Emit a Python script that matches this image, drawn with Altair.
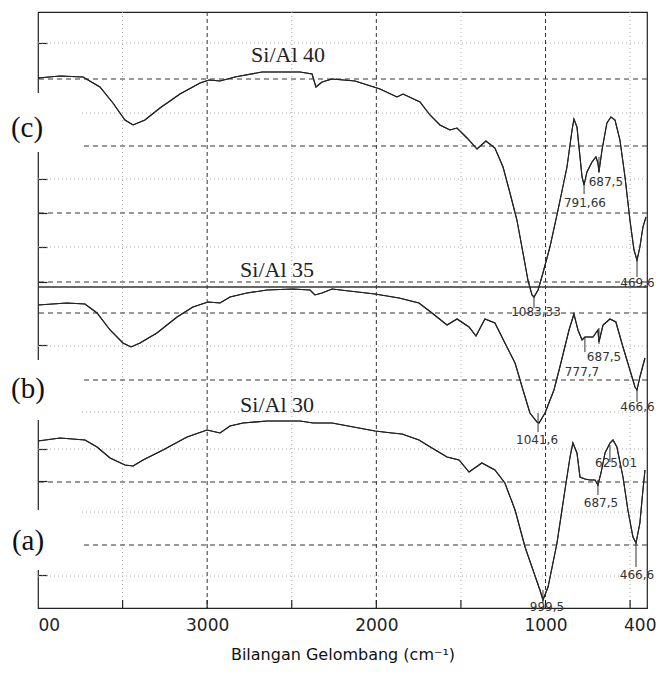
import altair as alt
import pandas as pd

# ---- Spectrum (c) Si/Al 40 : wavenumber (cm-1) and offset transmittance ----
wn_c = [4000, 3870, 3734, 3634, 3557, 3486, 3438, 3368, 3279, 3161, 3042, 2989, 2924, 2836, 2676,
        2451, 2380, 2357, 2321, 2262, 2126, 1978, 1878, 1842, 1742, 1683, 1624, 1565, 1523, 1464,
        1405, 1352, 1299, 1251, 1210, 1169, 1133, 1104, 1080, 1068, 1044, 1015, 974, 926, 873,
        843, 832, 814, 796, 784, 772, 755, 725, 702, 690, 684, 666, 637, 613, 589, 560, 530, 501,
        477, 459, 442, 424, 406]
t_c = [530, 532, 531, 521, 505, 488, 483, 488, 500, 514, 525, 528, 527, 531, 536,
       536, 534, 521, 526, 529, 527, 519, 511, 514, 506, 493, 483, 478, 480, 470,
       459, 467, 460, 441, 415, 388, 355, 328, 313, 311, 318, 335, 361, 398, 441,
       478, 489, 481, 451, 431, 423, 436, 446, 451, 445, 436, 458, 485, 491, 488, 468, 431, 388,
       358, 348, 361, 381, 391]

# ---- Spectrum (b) Si/Al 35 ----
wn_b = [4000, 3829, 3722, 3651, 3574, 3498, 3450, 3397, 3297, 3178, 3084, 2995, 2924, 2865, 2765,
        2646, 2493, 2392, 2363, 2321, 2262, 2008, 1866, 1748, 1671, 1582, 1523, 1452, 1411, 1358,
        1299, 1240, 1180, 1133, 1092, 1050, 1038, 1003, 950, 915, 861, 832, 808, 784, 767, 719,
        690, 684, 660, 619, 584, 542, 501, 471, 459, 442, 412]
t_b = [303, 305, 304, 295, 278, 265, 261, 265, 275, 291, 301, 306, 305, 311, 315,
       318, 319, 318, 313, 315, 319, 314, 310, 305, 295, 283, 289, 281, 272, 289,
       285, 265, 245, 218, 195, 186, 185, 195, 218, 241, 278, 294, 278, 268, 271, 271,
       278, 266, 283, 289, 286, 261, 238, 221, 218, 231, 250]

# ---- Spectrum (a) Si/Al 30 ----
wn_a = [4000, 3870, 3722, 3651, 3574, 3486, 3438, 3379, 3261, 3119, 3001, 2924, 2865, 2788, 2646,
        2451, 2374, 2262, 2008, 1907, 1848, 1748, 1671, 1582, 1511, 1452, 1376, 1299, 1240, 1180,
        1121, 1074, 1033, 1015, 985, 932, 885, 855, 838, 814, 796, 767, 737, 707, 690, 672, 648,
        619, 601, 578, 542, 513, 483, 465, 442, 424, 412]
t_a = [167, 170, 168, 161, 150, 143, 142, 148, 158, 171, 178, 175, 182, 185, 187,
       187, 185, 185, 177, 175, 174, 168, 160, 151, 148, 136, 145, 138, 125, 98,
       61, 38, 18, 8, 21, 65, 118, 151, 165, 155, 131, 129, 128, 128, 123, 135, 155,
       165, 168, 161, 131, 98, 71, 65, 85, 118, 138]

# ---- peak markers (short vertical strokes) ----
mk_wn = [1068, 772, 684, 459, 1044, 767, 684, 459, 619, 690, 465, 1015]
mk_top = [311, 423, 451, 348, 195, 271, 280, 218, 163, 128, 68, 18]
mk_bot = [300, 414, 435, 331, 176, 256, 264, 206, 146, 113, 41, 5]

# ---- peak labels ----
lb_text = ["1083,33", "791,66", "687,5", "469,6", "1041,6", "777,7", "687,5", "466,6",
           "625,01", "687,5", "466,6", "999,5"]
lb_wn = [1056, 767, 643, 456, 1050, 784, 654, 456, 583, 672, 459, 991]
lb_t = [296, 405, 426, 325, 168, 236, 251, 201, 145, 105, 33, 1]

# ---- series and panel labels ----
series_text = ["Si/Al 40", "Si/Al 35", "Si/Al 30"]
series_wn = [2522, 2587, 2587]
series_t = [553, 338, 203]
panel_text = ["(c)", "(b)", "(a)"]
panel_wn = [4065, 4059, 4059]
panel_t = [480, 219, 67]
box_wn = [4180, 4180, 4180]
box_wn2 = [3752, 3752, 3752]
box_t = [515, 248, 98]
box_t2 = [456, 188, 38]

# ---- grid values ----
h_dashed = [529, 462, 395, 326, 295, 228, 126, 63]
h_dotted = [565, 495, 429, 361, 262, 196, 159, 96, 32]
h_solid = [321]
v_dashed = [3000, 2000, 1000]
v_dotted = [3500, 2500, 1500, 500]
x_minor_ticks = [3500, 3000, 2500, 2000, 1500, 1000, 500]
y_ticks = [565, 429, 395, 361, 326, 263, 159, 127, 33]
x_labels = [4000, 3000, 2000, 1000, 400]

rows = []
for name, ws, ts in [("Si/Al 40", wn_c, t_c), ("Si/Al 35", wn_b, t_b), ("Si/Al 30", wn_a, t_a)]:
    for i, (w, t) in enumerate(zip(ws, ts)):
        rows.append({"series": name, "idx": i, "wn": w, "T": t})
spec = pd.DataFrame(rows)

xscale = alt.Scale(domain=[4000, 400], nice=False, zero=False)
yscale = alt.Scale(domain=[0, 596], nice=False, zero=False)

xaxis = alt.Axis(values=x_labels, ticks=False, domain=False, grid=False,
                 labelExpr="datum.value == 4000 ? '00' : datum.label",
                 labelAlign={"condition": [{"test": "datum.value == 4000", "value": "left"},
                                           {"test": "datum.value == 400", "value": "right"}],
                             "value": "center"},
                 labelOffset={"condition": {"test": "datum.value == 400", "value": 9}, "value": 0},
                 labelFont="DejaVu Sans", labelFontSize=17, labelColor="#222", labelPadding=9,
                 title="Bilangan Gelombang (cm⁻¹)", titleFont="DejaVu Sans", titleFontSize=16,
                 titleFontWeight="normal", titleColor="#111", titlePadding=13, format="d")
yaxis = alt.Axis(values=y_ticks, offset=-9, tickSize=9, labels=False, domain=False, grid=False,
                 title=None, tickColor="#222", tickWidth=1.2)

X = alt.X("wn:Q", scale=xscale, axis=xaxis)
Y = alt.Y("T:Q", scale=yscale, axis=yaxis)

hd = alt.Chart(pd.DataFrame({"T": h_dashed})).mark_rule(color="#333", strokeWidth=1, strokeDash=[5, 4]).encode(y=Y)
hdot = alt.Chart(pd.DataFrame({"T": h_dotted})).mark_rule(color="#aaa", strokeWidth=1, strokeDash=[1, 3]).encode(y=Y)
hs = alt.Chart(pd.DataFrame({"T": h_solid})).mark_rule(color="#333", strokeWidth=1.3).encode(y=Y)
vd = alt.Chart(pd.DataFrame({"wn": v_dashed})).mark_rule(color="#333", strokeWidth=1, strokeDash=[4, 3]).encode(x=X)
vdot = alt.Chart(pd.DataFrame({"wn": v_dotted})).mark_rule(color="#aaa", strokeWidth=1, strokeDash=[1, 3]).encode(x=X)
xticks = alt.Chart(pd.DataFrame({"wn": x_minor_ticks})).mark_rule(color="#222", strokeWidth=1.2).encode(
    x=X, y=alt.value(596), y2=alt.value(588))

boxes = alt.Chart(pd.DataFrame({"wn": box_wn, "wn2": box_wn2, "T": box_t, "T2": box_t2})).mark_rect(
    color="white").encode(x=X, x2="wn2", y=Y, y2="T2")

lines = alt.Chart(spec).mark_line(color="#222", strokeWidth=1.1).encode(
    x=X, y=Y, detail="series:N", order="idx:Q")

markers = alt.Chart(pd.DataFrame({"wn": mk_wn, "T": mk_top, "T2": mk_bot})).mark_rule(
    color="#333", strokeWidth=1).encode(x=X, y=Y, y2="T2")

peak_labels = alt.Chart(pd.DataFrame({"wn": lb_wn, "T": lb_t, "txt": lb_text})).mark_text(
    font="DejaVu Sans", fontSize=12, color="#333", align="center", baseline="middle").encode(
    x=X, y=Y, text="txt:N")

series_labels = alt.Chart(pd.DataFrame({"wn": series_wn, "T": series_t, "txt": series_text})).mark_text(
    font="Liberation Serif", fontSize=22, color="#222", align="center", baseline="middle").encode(
    x=X, y=Y, text="txt:N")

panel_labels = alt.Chart(pd.DataFrame({"wn": panel_wn, "T": panel_t, "txt": panel_text})).mark_text(
    font="Liberation Serif", fontSize=29, color="#111", align="center", baseline="middle").encode(
    x=X, y=Y, text="txt:N")

chart = alt.layer(lines, vd, vdot, hd, hdot, hs, xticks, boxes, lines, markers, peak_labels,
                  series_labels, panel_labels).properties(
    width=609, height=596, autosize="none",
    padding={"left": 30, "top": 4, "right": 9, "bottom": 70},
    background="white",
).configure_view(stroke="#222", strokeWidth=1.2)

chart.save("out.html", embed_options={"renderer": "svg", "actions": False})
